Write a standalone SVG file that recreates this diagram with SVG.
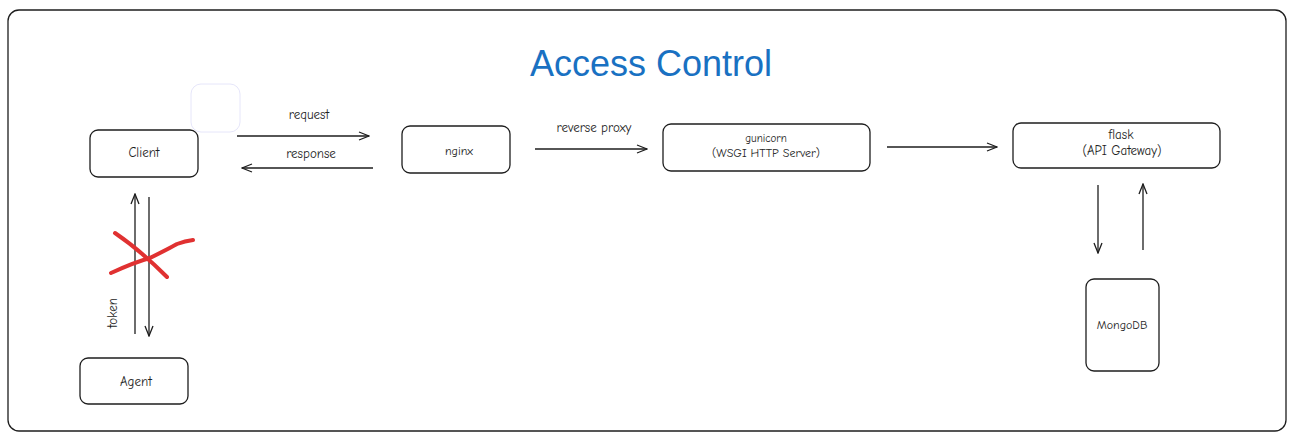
<svg xmlns="http://www.w3.org/2000/svg" width="1296" height="442" viewBox="0 0 1296 442">
<style>
.box{fill:#fff;stroke:#1e1e1e;stroke-width:1.3}
.t{font-family:"Comic Neue","Liberation Sans",sans-serif;fill:#1e1e1e;text-anchor:middle}
.c{stroke:#1e1e1e;stroke-width:1.3;fill:none;marker-end:url(#ah)}
</style>
<defs>
<marker id="ah" viewBox="0 0 12 12" refX="11" refY="6" markerWidth="12" markerHeight="12" markerUnits="userSpaceOnUse" orient="auto">
<path d="M1,2 L11,6 L1,10" fill="none" stroke="#1e1e1e" stroke-width="1.3"/>
</marker>
</defs>
<rect width="1296" height="442" fill="#fff"/>
<rect id="frame" x="8" y="10" width="1278" height="421" rx="11" fill="none" stroke="#1e1e1e" stroke-width="1.3"/>
<text id="title" x="651" y="76" font-family="Liberation Sans,sans-serif" font-size="36" fill="#1971c2" text-anchor="middle">Access Control</text>
<rect id="blank" x="191" y="84" width="49" height="48" rx="10" fill="none" stroke="#e6e6fa" stroke-width="1"/>
<g id="client"><rect class="box" x="90" y="130" width="108" height="47" rx="8"/><text class="t" x="144" y="157" font-size="13">Client</text></g>
<g id="nginx"><rect class="box" x="402" y="126" width="108" height="47" rx="8"/><text class="t" x="459" y="155" font-size="12">nginx</text></g>
<g id="gunicorn"><rect class="box" x="663" y="124" width="207" height="47" rx="8"/><text class="t" x="766" y="142" font-size="11">gunicorn</text><text class="t" x="766" y="157" font-size="12">(WSGI HTTP Server)</text></g>
<g id="flask"><rect class="box" x="1013" y="123" width="207" height="45" rx="8"/><text class="t" x="1121" y="139" font-size="13">flask</text><text class="t" x="1122" y="155" font-size="13">(API Gateway)</text></g>
<g id="mongodb"><rect class="box" x="1086" y="279" width="73" height="92" rx="8"/><text class="t" x="1122" y="329" font-size="12">MongoDB</text></g>
<g id="agent"><rect class="box" x="80" y="358" width="108" height="46" rx="8"/><text class="t" x="136" y="386" font-size="13">Agent</text></g>
<g id="connectors">
<path class="c" d="M237,136 L369,136"/>
<text class="t" x="309" y="119" font-size="13">request</text>
<path class="c" d="M373,168 L242,168" stroke="#555"/>
<text class="t" x="311" y="158" font-size="13">response</text>
<path class="c" d="M535,149 L647,149"/>
<text class="t" x="594" y="132" font-size="13">reverse proxy</text>
<path class="c" d="M887,147 L997,147"/>
<path class="c" d="M1098,185 L1098,253"/>
<path class="c" d="M1143,250 L1143,184"/>
<path class="c" d="M135,334 L135,194"/>
<path class="c" d="M149,197 L149,336"/>
<text class="t" x="117" y="313" font-size="13" transform="rotate(-90 117 313)">token</text>
<path d="M115,233 Q140,250 167,277" fill="none" stroke="#e03131" stroke-width="4" stroke-linecap="round"/>
<path d="M111,273 Q135,262 150,258 Q170,248 177,244 Q185,241 193,240" fill="none" stroke="#e03131" stroke-width="4" stroke-linecap="round"/>
</g>
</svg>
